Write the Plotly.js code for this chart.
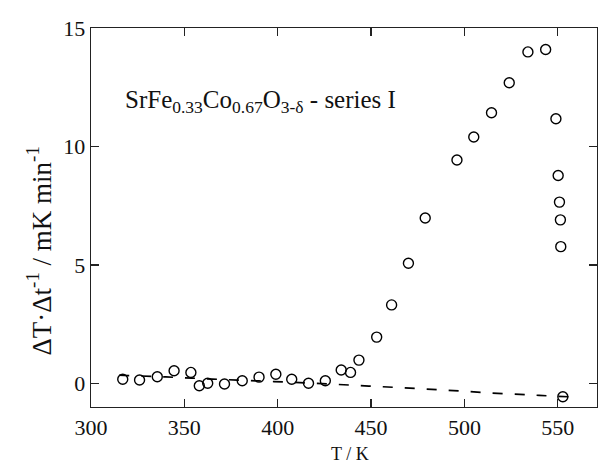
<!DOCTYPE html>
<html>
<head>
<meta charset="utf-8">
<script src="https://cdn.plot.ly/plotly-3.0.1.min.js"></script>
<style>html,body{margin:0;padding:0;background:#fff;}#chart{width:598px;height:464px;}</style>
</head>
<body>
<div id="chart"></div>
<script>
// Measured points (T / K, ΔT·Δt^-1 / mK min^-1)
var tempK = [317, 326, 335.5, 344.5, 353.5, 358, 362.5, 371.5, 381, 390, 399, 407.5, 416.5, 425.5,
             434, 439, 443.5, 453, 461, 470, 479, 496, 505, 514.5, 524, 534, 543.5,
             549, 550.2, 550.9, 551.4, 551.6, 552.7];
var rate = [0.17, 0.14, 0.28, 0.53, 0.46, -0.1, 0.0, -0.03, 0.11, 0.26, 0.38, 0.17, 0.0, 0.11,
            0.56, 0.46, 0.98, 1.95, 3.31, 5.07, 6.98, 9.43, 10.4, 11.42, 12.69, 13.99, 14.09,
            11.17, 8.77, 7.65, 6.9, 5.77, -0.57];
// Dashed baseline
var baseT = [315, 340, 365, 390, 415, 440, 465, 490, 515, 540, 562];
var baseY = [0.34, 0.27, 0.18, 0.1, 0.02, -0.08, -0.18, -0.29, -0.41, -0.51, -0.59];
var xTicks = [300, 350, 400, 450, 500, 550];
var yTicks = [0, 5, 10, 15];

var serif = "Liberation Serif";

var traces = [
  {x: baseT, y: baseY, mode: 'lines', type: 'scatter', line: {color: '#000', width: 1.7, dash: '10px,12px', shape: 'spline'}, hoverinfo: 'skip'},
  {x: tempK, y: rate, mode: 'markers', type: 'scatter', marker: {symbol: 'circle-open', size: 10, color: '#000', line: {width: 1.4, color: '#000'}}}
];

var axisCommon = {
  showgrid: false, zeroline: false, showline: true, linecolor: '#222', linewidth: 1.3,
  ticks: 'inside', ticklen: 8, tickwidth: 1.3, tickcolor: '#222', mirror: 'ticks',
  tickfont: {family: serif, size: 22, color: '#111'}
};

var layout = {
  width: 598, height: 464,
  font: {family: serif},
  margin: {l: 91, r: 1, t: 28, b: 57},
  paper_bgcolor: '#fff', plot_bgcolor: '#fff',
  showlegend: false,
  xaxis: Object.assign({}, axisCommon, {range: [300, 571], tickvals: xTicks, ticktext: xTicks.map(String)}),
  yaxis: Object.assign({}, axisCommon, {range: [-1, 15], tickvals: yTicks, ticktext: yTicks.map(String)}),
  annotations: [
    {xref: 'x', yref: 'y', x: 317, y: 11.9, xanchor: 'left', yanchor: 'middle', showarrow: false,
     text: 'SrFe<sub>0.33</sub>Co<sub>0.67</sub>O<sub>3-δ</sub> - series I',
     font: {family: serif, size: 25, color: '#111'}},
    {xref: 'paper', yref: 'paper', x: 0.512, y: 0, yshift: -47, xanchor: 'center', yanchor: 'middle', showarrow: false,
     text: 'T / K', font: {family: serif, size: 18, color: '#111'}},
    {xref: 'paper', yref: 'paper', x: 0, xshift: -52, y: 0.41, xanchor: 'center', yanchor: 'middle', showarrow: false,
     textangle: -90,
     text: 'ΔT·Δt<sup>-1</sup> / mK min<sup>-1</sup>', font: {family: serif, size: 27, color: '#111'}}
  ]
};

Plotly.newPlot('chart', traces, layout, {staticPlot: true, displayModeBar: false});
</script>
</body>
</html>
